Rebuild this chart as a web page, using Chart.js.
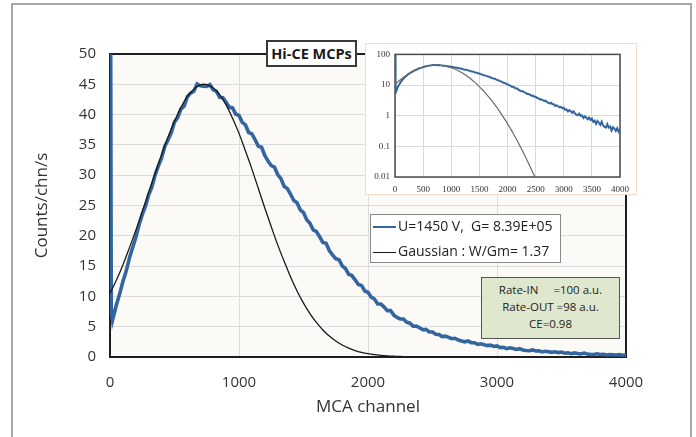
<!DOCTYPE html>
<html>
<head>
<meta charset="utf-8">
<script src="https://cdn.jsdelivr.net/npm/chart.js@4.4.1/dist/chart.umd.min.js"></script>
<style>
  body { margin:0; background:#fff; overflow:hidden; width:696px; height:437px; position:relative; font-family:'Open Sans', sans-serif; }
  #frame { position:absolute; left:11px; top:3px; width:677px; height:450px; border:2px solid #a8a8a8; }
  #mainChart { position:absolute; left:0; top:0; }
  #titleBox { position:absolute; left:266px; top:40px; width:87px; height:23px; border:2px solid #3a3a3a; background:#fff;
              font-weight:700; font-size:14.5px; line-height:23px; text-align:center; color:#1a1a1a; }
  #insetPanel { position:absolute; left:365px; top:43px; width:270px; height:150px; border:1px solid #f2dccb; background:#fff; }
  #insetChart { position:absolute; left:0; top:0; }
  #legendBox { position:absolute; left:370px; top:214px; width:189px; height:47px; border:1px solid #8a8a8a; background:#fff;
               font-size:14px; color:#222; }
  .row { position:absolute; left:2px; height:20px; line-height:20px; white-space:pre; }
  .swatch { display:inline-block; width:23px; height:0; border-top:2px solid; vertical-align:middle; margin-right:2px; }
  #rateBox { position:absolute; left:481px; top:277px; width:137px; height:57px; border:1.5px solid #555; background:#dfe8cf;
             font-size:11.5px; line-height:17px; padding-top:3px; box-sizing:content-box; text-align:center; color:#222; white-space:pre; }
</style>
</head>
<body>
<div id="frame"></div>
<canvas id="mainChart" width="696" height="437"></canvas>
<div id="titleBox">Hi-CE MCPs</div>
<div id="insetPanel"><canvas id="insetChart" width="270" height="150"></canvas></div>
<div id="legendBox">
  <div class="row" style="top:1px"><span class="swatch" style="border-color:#33669f"></span>U=1450 V,  G= 8.39E+05</div>
  <div class="row" style="top:26px"><span class="swatch" style="border-color:#1a1a1a;border-top-width:1.5px"></span>Gaussian : W/Gm= 1.37</div>
</div>
<div id="rateBox">Rate-IN     =100 a.u.
Rate-OUT =98 a.u.
CE=0.98</div>
<script>
const channels = [
  0, 10, 20, 50, 75, 100, 125, 150, 175, 200, 225,
  250, 275, 300, 325, 350, 375, 400, 425, 450, 475,
  500, 525, 550, 575, 600, 625, 650, 675, 700, 725,
  750, 775, 800, 825, 850, 875, 900, 925, 950, 975,
  1000, 1025, 1050, 1075, 1100, 1125, 1150, 1175, 1200, 1225,
  1250, 1275, 1300, 1325, 1350, 1375, 1400, 1425, 1450, 1475,
  1500, 1525, 1550, 1575, 1600, 1625, 1650, 1675, 1700, 1725,
  1750, 1775, 1800, 1825, 1850, 1875, 1900, 1925, 1950, 1975,
  2000, 2025, 2050, 2075, 2100, 2125, 2150, 2175, 2200, 2225,
  2250, 2275, 2300, 2325, 2350, 2375, 2400, 2425, 2450, 2475,
  2500, 2525, 2550, 2575, 2600, 2625, 2650, 2675, 2700, 2725,
  2750, 2775, 2800, 2825, 2850, 2875, 2900, 2925, 2950, 2975,
  3000, 3025, 3050, 3075, 3100, 3125, 3150, 3175, 3200, 3225,
  3250, 3275, 3300, 3325, 3350, 3375, 3400, 3425, 3450, 3475,
  3500, 3525, 3550, 3575, 3600, 3625, 3650, 3675, 3700, 3725,
  3750, 3775, 3800, 3825, 3850, 3875, 3900, 3925, 3950, 3975,
  4000
];
const counts = [
  100, 8, 6.1, 8.62, 10.42, 12.44, 14.14, 16.3, 18.02, 19.7, 21.78,
  23.48, 24.88, 26.76, 28.06, 30.05, 31.53, 32.85, 34.77, 35.81, 37.02,
  38.8, 39.5, 40.9, 41.4, 42.95, 43.55, 43.85, 45.05, 44.75, 44.7,
  44.65, 44.95, 44.1, 43.85, 42.85, 42.8, 42.05, 41.2, 41.1, 40.05,
  39.87, 38.72, 38.29, 37.04, 36.83, 35.85, 34.77, 34.61, 33.26, 32.33,
  31.57, 31.32, 30.11, 29.44, 28.18, 27.78, 26.85, 25.82, 25.47, 24.26,
  23.84, 22.64, 22.08, 20.98, 20.7, 19.84, 18.9, 18.76, 17.58, 16.86,
  16.22, 16.05, 15.03, 14.61, 13.65, 13.44, 12.74, 11.96, 11.81, 10.89,
  10.68, 9.88, 9.56, 8.76, 8.75, 8.23, 7.65, 7.67, 6.91, 6.52,
  6.28, 6.28, 5.75, 5.58, 5.08, 5.1, 4.83, 4.5, 4.55, 4.13,
  4.12, 3.75, 3.71, 3.38, 3.45, 3.25, 3.01, 3.09, 2.80, 2.64,
  2.51, 2.64, 2.36, 2.36, 2.08, 2.18, 2.04, 1.88, 1.95, 1.74,
  1.82, 1.56, 1.60, 1.37, 1.52, 1.40, 1.25, 1.38, 1.17, 1.08,
  1.03, 1.17, 0.99, 1.02, 0.84, 0.95, 0.87, 0.77, 0.86, 0.73,
  0.81, 0.63, 0.69, 0.54, 0.67, 0.59, 0.50, 0.64, 0.48, 0.43,
  0.41, 0.53, 0.41, 0.44, 0.33, 0.42, 0.38, 0.32, 0.39, 0.30,
  0.36
];

// gaussian fit
const gaussChannels = [
  0, 50, 100, 150, 200, 250, 300, 350, 400, 450,
  500, 550, 600, 650, 700, 750, 800, 850, 900, 950,
  1000, 1050, 1100, 1150, 1200, 1250, 1300, 1350, 1400, 1450,
  1500, 1550, 1600, 1650, 1700, 1750, 1800, 1850, 1900, 1950,
  2000, 2050, 2100, 2150, 2200, 2250, 2300, 2350, 2400, 2450,
  2500, 2550
];
const gaussCounts = [
  10.5, 12.7, 15.2, 18.0, 20.9, 24.0, 27.2, 30.3, 33.4, 36.3,
  38.9, 41.2, 43.0, 44.2, 44.9, 44.95, 44.4, 43.3, 41.6, 39.4,
  36.9, 34.0, 31.0, 27.8, 24.6, 21.5, 18.5, 15.8, 13.2, 10.9,
  8.9, 7.17, 5.70, 4.46, 3.45, 2.63, 1.98, 1.47, 1.07, 0.773,
  0.553, 0.387, 0.268, 0.183, 0.123, 0.082, 0.0536, 0.0347, 0.0222, 0.014,
  0.0087, 0.0053
];

const insetDecades = [0.01, 0.1, 1, 10, 100];

const blue = '#33669f';
const pts = (xs, ys) => xs.map((x, i) => ({ x: x, y: ys[i] }));

// plot area fill + box frame, under the lines
const frame = {
  id: 'frame',
  beforeDraw(chart, args, o) {
    const { ctx, chartArea: a } = chart;
    ctx.save();
    ctx.fillStyle = o.fill;
    ctx.fillRect(a.left, a.top, a.width, a.height);
    ctx.restore();
  },
  beforeDatasetsDraw(chart, args, o) {
    const { ctx, chartArea: a } = chart;
    ctx.save();
    ctx.strokeStyle = o.stroke;
    ctx.lineWidth = o.width;
    ctx.strokeRect(a.left, a.top, a.width, a.height);
    ctx.restore();
  }
};

const tickFont = { family: "'Open Sans', sans-serif", size: 15 };
const titleFont = { family: "'Open Sans', sans-serif", size: 17 };

new Chart(document.getElementById('mainChart'), {
  type: 'line',
  data: {
    datasets: [{
      data: pts(gaussChannels, gaussCounts),
      borderColor: '#1a1a1a',
      borderWidth: 1.3,
      pointRadius: 0,
      tension: 0.4,
      fill: false
    }, {
      data: pts(channels, counts),
      borderColor: blue,
      borderWidth: 3.6,
      pointRadius: 0,
      tension: 0,
      fill: false
    }]
  },
  options: {
    responsive: false,
    animation: false,
    parsing: false,
    layout: { padding: { left: 0, top: 54, right: 70, bottom: 0 } },
    plugins: {
      legend: { display: false },
      tooltip: { enabled: false },
      frame: { fill: '#fbfaf7', stroke: '#1e1e1e', width: 2 }
    },
    scales: {
      x: {
        type: 'linear',
        min: 0,
        max: 4000,
        afterFit: s => { s.height = 80; },
        ticks: { stepSize: 1000, color: '#333', font: tickFont, padding: 17, callback: v => String(v) },
        grid: { color: '#dcdcdc', drawTicks: false },
        border: { display: false },
        title: { display: true, text: 'MCA channel', color: '#333', font: titleFont, padding: { bottom: 20 } }
      },
      y: {
        min: 0,
        max: 50,
        afterFit: s => { s.width = 110; },
        ticks: { stepSize: 5, color: '#333', font: tickFont, padding: 14 },
        grid: { color: '#dcdcdc', drawTicks: false },
        border: { display: false },
        title: { display: true, text: 'Counts/chn/s', color: '#333', font: titleFont, padding: { top: 32 } }
      }
    }
  },
  plugins: [frame]
});

const insetFont = { family: "'Liberation Serif', serif", size: 9 };

new Chart(document.getElementById('insetChart'), {
  type: 'line',
  data: {
    datasets: [{
      data: pts(gaussChannels, gaussCounts),
      borderColor: '#6a6a6a',
      borderWidth: 1.2,
      pointRadius: 0,
      tension: 0.4,
      fill: false
    }, {
      data: pts(channels, counts),
      borderColor: blue,
      borderWidth: 2,
      pointRadius: 0,
      tension: 0,
      fill: false
    }]
  },
  options: {
    responsive: false,
    animation: false,
    parsing: false,
    layout: { padding: { left: 0, top: 8, right: 12, bottom: 0 } },
    plugins: {
      legend: { display: false },
      tooltip: { enabled: false },
      frame: { fill: '#ffffff', stroke: '#4a4a4a', width: 1.5 }
    },
    scales: {
      x: {
        type: 'linear',
        min: 0,
        max: 4000,
        afterFit: s => { s.height = 17; },
        ticks: { stepSize: 500, color: '#333', font: insetFont, padding: 7, maxRotation: 0, callback: v => String(v) },
        grid: { color: '#dadada', drawTicks: false },
        border: { display: false }
      },
      y: {
        type: 'logarithmic',
        min: 0.01,
        max: 100,
        afterFit: s => { s.width = 29; },
        afterBuildTicks: s => { s.ticks = insetDecades.map(v => ({ value: v })); },
        ticks: { color: '#333', font: insetFont, padding: 5, callback: v => String(v) },
        grid: { color: '#dadada', drawTicks: false },
        border: { display: false }
      }
    }
  },
  plugins: [frame]
});
</script>
</body>
</html>
